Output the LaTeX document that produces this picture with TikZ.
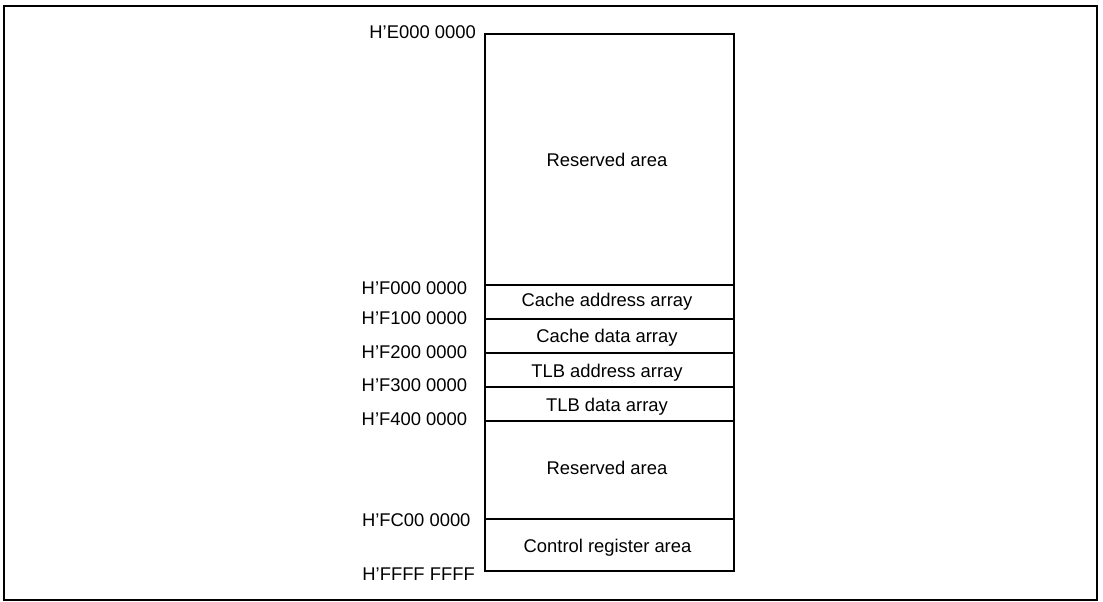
\documentclass[tikz,border=0pt]{standalone}
\usepackage{fontspec}
\setmainfont{Liberation Sans}
\tikzset{
  region/.style={draw=black, line width=2pt, minimum width=249pt, inner sep=0pt},
  areatext/.style={anchor=base, inner sep=0pt, font=\fontsize{18.4}{22}\selectfont},
  addr/.style={anchor=east, inner sep=0pt, font=\fontsize{18.4}{22}\selectfont},
  frame/.style={draw=black, line width=2.2pt}
}
\begin{document}
\begin{tikzpicture}[x=1pt,y=-1pt]
\useasboundingbox (0,0) rectangle (1103,602);
\node[frame, minimum width=1093pt, minimum height=594pt, inner sep=0pt] (border) at (550.5,303) {};
% regions
\node[region, minimum height=251pt] (res1) at (609.5,159.5) {};
\node[region, minimum height=34pt] (caa) at (609.5,302.3) {};
\node[region, minimum height=34pt] (cda) at (609.5,336.3) {};
\node[region, minimum height=34pt] (taa) at (609.5,370.3) {};
\node[region, minimum height=33.4pt] (tda) at (609.5,404) {};
\node[region, minimum height=98.3pt] (res2) at (609.5,469.85) {};
\node[region, minimum height=51.7pt] (ctl) at (609.5,544.85) {};
% region texts
\node[areatext] (t1) at (607,166.7) {Reserved area};
\node[areatext] (t2) at (607,306.7) {Cache address array};
\node[areatext] (t3) at (607,342.5) {Cache data array};
\node[areatext] (t4) at (607,377.3) {TLB address array};
\node[areatext] (t5) at (607,411.7) {TLB data array};
\node[areatext] (t6) at (607,474) {Reserved area};
\node[areatext] (t7) at (607.5,552.3) {Control register area};
% address labels
\node[addr] (aE0) at (476,32.5) {H’E000 0000};
\node[addr] (aF0) at (467.3,288.3) {H’F000 0000};
\node[addr] (aF1) at (467.3,318.3) {H’F100 0000};
\node[addr] (aF2) at (467.3,352.2) {H’F200 0000};
\node[addr] (aF3) at (467.3,385.5) {H’F300 0000};
\node[addr] (aF4) at (467.3,418.8) {H’F400 0000};
\node[addr] (aFC) at (470.7,520) {H’FC00 0000};
\node[addr] (aFF) at (475,574.2) {H’FFFF FFFF};
\end{tikzpicture}
\end{document}
